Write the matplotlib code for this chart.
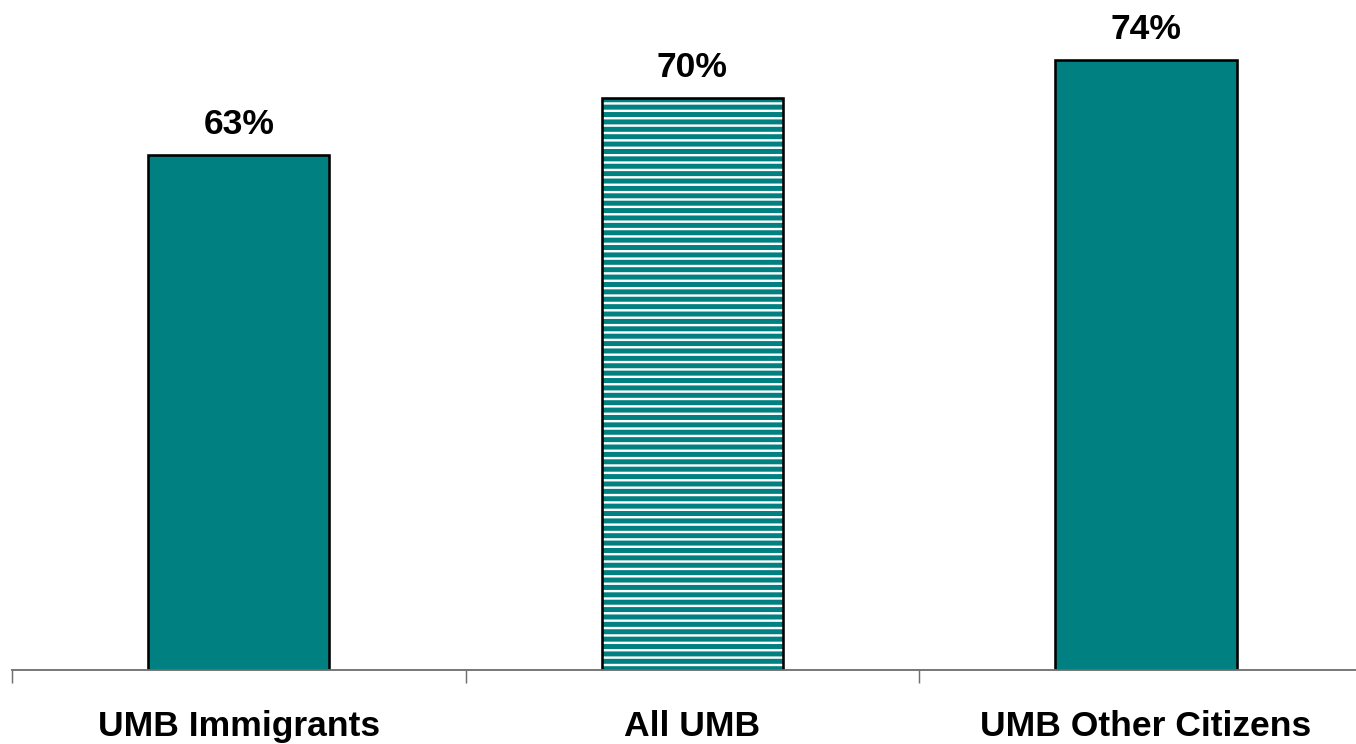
import matplotlib.pyplot as plt

categories = ['UMB Immigrants', 'All UMB', 'UMB Other Citizens']
values = [63, 70, 74.6]
value_labels = ['63%', '70%', '74%']
hatched = [False, True, False]

teal = '#008080'
dpi = 400 / 3
plt.rcParams['font.family'] = ['Liberation Sans', 'DejaVu Sans']
plt.rcParams['hatch.linewidth'] = 2.7

fig = plt.figure(figsize=(1356.2 / dpi, 744.2 / dpi), dpi=dpi)
# axis runs a little past the right edge, like the original slide
ax = fig.add_axes([12 / 1356, 74 / 744, 3 * 453.5 / 1356, 670 / 744])

x = list(range(len(categories)))
for i in x:
    if hatched[i]:
        ax.bar(i, values[i], width=0.4, color='white', edgecolor=teal,
               hatch='---', linewidth=0)
        ax.bar(i, values[i], width=0.4, fill=False, edgecolor='black', linewidth=1.4)
    else:
        ax.bar(i, values[i], width=0.4, color=teal, edgecolor='black', linewidth=1.4)
    ax.text(i, values[i] + 1.75, value_labels[i], ha='center', va='bottom',
            fontsize=19.2, fontweight='bold')

ax.set_xlim(-0.5, 2.5)
ax.set_ylim(0, 82)

for s in ['top', 'right', 'left']:
    ax.spines[s].set_visible(False)
ax.spines['bottom'].set_color('#707070')
ax.spines['bottom'].set_linewidth(1.0)

ax.set_yticks([])
ax.set_xticks([-0.5, 0.5, 1.5, 2.5])
ax.set_xticklabels([])
ax.tick_params(axis='x', which='major', length=7, width=0.8, color='#707070', direction='out')
ax.set_xticks(x, minor=True)
ax.set_xticklabels(categories, minor=True, fontsize=19.2, fontweight='bold')
ax.tick_params(axis='x', which='minor', length=0, pad=21.5)

fig.savefig('out.png', dpi=dpi)
